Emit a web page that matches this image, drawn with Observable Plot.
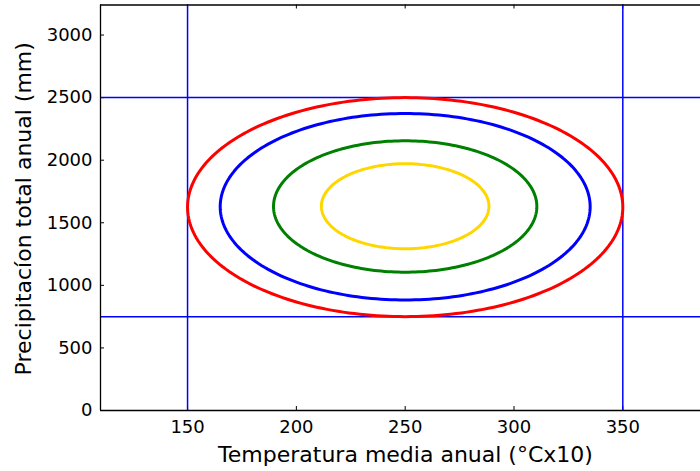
<!DOCTYPE html>
<html>
<head>
<meta charset="utf-8">
<script src="https://cdn.jsdelivr.net/npm/d3@7"></script>
<script src="https://cdn.jsdelivr.net/npm/@observablehq/plot@0.6"></script>
<style>
  html, body { margin: 0; padding: 0; background: #fff; }
  #chart svg { display: block; }
</style>
</head>
<body>
<div id="chart"></div>
<script>
// Ellipse series (center and semi-axes)
const series   = ["red", "blue", "green", "gold"];
const centerX  = [250, 250, 250, 250];
const centerY  = [1625, 1628, 1630, 1632];
const semiAxX  = [100, 85, 60.5, 38.5];
const semiAxY  = [875, 745, 525, 340];
const colors   = ["#ff0000", "#0000ff", "#008000", "#ffd700"];

// Reference lines
const refX = [150, 350];
const refY = [750, 2500];

// Axes
const xDomain = [110, 385.7];
const yDomain = [0, 3240];
const xTicks = [150, 200, 250, 300, 350];
const yTicks = [0, 500, 1000, 1500, 2000, 2500, 3000];
const xLabel = "Temperatura media anual (°Cx10)";
const yLabel = "Precipitacíon total anual (mm)";

// Build ellipse outlines from the parameters above
const steps = 240;
const ellipsePts = [];
series.forEach((s, i) => {
  for (let k = 0; k <= steps; k++) {
    const t = (2 * Math.PI * k) / steps;
    ellipsePts.push({
      s,
      x: centerX[i] + semiAxX[i] * Math.cos(t),
      y: centerY[i] + semiAxY[i] * Math.sin(t)
    });
  }
});

const W = 700, H = 471;
const mT = 4.5, mB = 61, mL = 100, mR = 0;
const frameH = H - mT - mB;
const tickLen = 4;
const fmt = d => String(d);

const plot = Plot.plot({
  width: W,
  height: H,
  marginTop: mT,
  marginBottom: mB,
  marginLeft: mL,
  marginRight: mR,
  style: { fontFamily: "DejaVu Sans", fontSize: "18px", color: "#000", background: "#fff" },
  x: { domain: xDomain, label: null },
  y: { domain: yDomain, label: null },
  color: { domain: series, range: colors },
  marks: [
    Plot.axisX({ ticks: xTicks, tickFormat: fmt, tickSize: 0, tickPadding: 10, label: null, fontSize: 18 }),
    Plot.axisY({ ticks: yTicks, tickFormat: fmt, tickSize: 0, tickPadding: 8, label: null, fontSize: 18 }),
    // inward ticks: bottom & top for x, left for y
    Plot.tickX(xTicks, { x: d => d, insetTop: frameH - tickLen, stroke: "#000", strokeWidth: 1 }),
    Plot.tickX(xTicks, { x: d => d, insetBottom: frameH - tickLen, stroke: "#000", strokeWidth: 1 }),
    Plot.tickY(yTicks, { y: d => d, insetRight: (W - mL) - tickLen, stroke: "#000", strokeWidth: 1 }),
    // reference lines
    Plot.ruleX(refX, { stroke: "#0000ff", strokeWidth: 1.5 }),
    Plot.ruleY(refY, { stroke: "#0000ff", strokeWidth: 1.5 }),
    // ellipses
    Plot.line(ellipsePts, { x: "x", y: "y", z: "s", stroke: "s", strokeWidth: 3, curve: "linear" }),
    // spines: left, bottom, top
    Plot.ruleX([xDomain[0]], { stroke: "#000", strokeWidth: 1.3 }),
    Plot.ruleY([yDomain[0], yDomain[1]], { stroke: "#000", strokeWidth: 1.3 }),
    // axis labels
    Plot.text([xLabel], { frameAnchor: "bottom", dx: 5, dy: 51, text: d => d, fontSize: 22, fill: "#000", textAnchor: "middle" }),
    Plot.text([yLabel], { frameAnchor: "left", dx: -77, dy: 1, rotate: -90, text: d => d, fontSize: 22, fill: "#000", textAnchor: "middle" })
  ]
});
document.getElementById("chart").appendChild(plot);
</script>
</body>
</html>
